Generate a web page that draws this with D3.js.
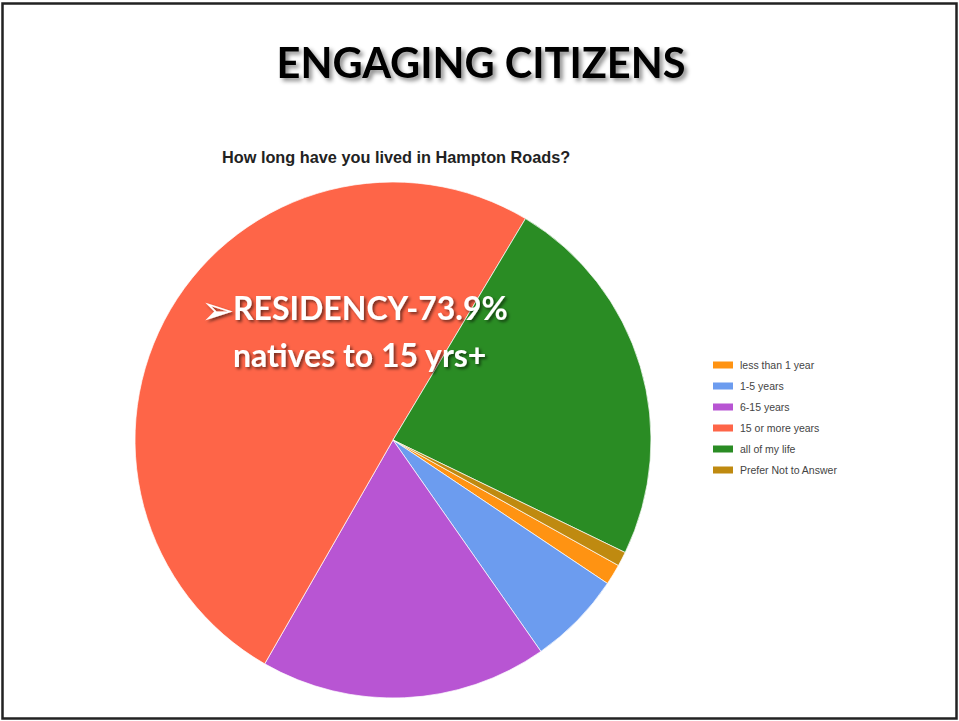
<!DOCTYPE html>
<html>
<head>
<meta charset="utf-8">
<script src="https://cdn.jsdelivr.net/npm/d3@7"></script>
<style>
  html, body { margin: 0; padding: 0; background: #fff; }
  svg { display: block; }
</style>
</head>
<body>
<svg id="chart" width="959" height="721"></svg>
<script>
// Survey answers: share of respondents (%) by time lived in Hampton Roads
const categories = ["less than 1 year", "1-5 years", "6-15 years", "15 or more years", "all of my life", "Prefer Not to Answer"];
const values = [1.3, 5.9, 18.0, 50.3, 23.6, 0.9];
const colors = ["#ff9312", "#6c9cef", "#b855d3", "#fe6548", "#2a8c24", "#bf8a10"];

const titleText = "ENGAGING CITIZENS";
const subtitleText = "How long have you lived in Hampton Roads?";
const calloutLines = ["RESIDENCY-73.9%", "natives to 15 yrs+"];

const svg = d3.select("#chart");

const defs = svg.append("defs");
const titleShadow = defs.append("filter").attr("id", "titleShadow")
  .attr("x", "-10%").attr("y", "-30%").attr("width", "120%").attr("height", "160%");
titleShadow.append("feDropShadow").attr("dx", 3).attr("dy", 3).attr("stdDeviation", 2)
  .attr("flood-color", "#000").attr("flood-opacity", 0.45);
const calloutShadow = defs.append("filter").attr("id", "calloutShadow")
  .attr("x", "-10%").attr("y", "-30%").attr("width", "120%").attr("height", "160%");
calloutShadow.append("feDropShadow").attr("dx", 2).attr("dy", 2).attr("stdDeviation", 1.5)
  .attr("flood-color", "#000").attr("flood-opacity", 0.55);

// Slide frame
svg.append("rect")
  .attr("x", 2.5).attr("y", 3.5).attr("width", 954).attr("height", 715)
  .attr("fill", "none").attr("stroke", "#222").attr("stroke-width", 2.5);

// Slide title
svg.append("text")
  .attr("x", 481).attr("y", 78)
  .attr("text-anchor", "middle")
  .attr("font-family", "Lato, 'Open Sans', sans-serif")
  .attr("font-weight", 700)
  .attr("font-size", 41.5)
  .attr("fill", "#000")
  .attr("filter", "url(#titleShadow)")
  .text(titleText);

// Chart title
svg.append("text")
  .attr("x", 222).attr("y", 163)
  .attr("font-family", "Arial, 'Liberation Sans', sans-serif")
  .attr("font-weight", 700)
  .attr("font-size", 16.3)
  .attr("fill", "#222")
  .text(subtitleText);

// Pie
const cx = 393, cy = 440, radius = 258;
const startAngle = 119.1 * Math.PI / 180;

const pie = d3.pie()
  .sort(null)
  .value(d => d.value)
  .startAngle(startAngle)
  .endAngle(startAngle + 2 * Math.PI);

const arc = d3.arc().innerRadius(0).outerRadius(radius);

const data = categories.map((c, i) => ({ name: c, value: values[i], color: colors[i] }));

svg.append("g")
  .attr("transform", `translate(${cx},${cy})`)
  .selectAll("path")
  .data(pie(data))
  .join("path")
  .attr("d", arc)
  .attr("fill", d => d.data.color)
  .attr("stroke", "#fff")
  .attr("stroke-opacity", 0.7)
  .attr("stroke-width", 1);

// Legend
const legend = svg.append("g").attr("transform", "translate(713,365)");
const rows = legend.selectAll("g")
  .data(data)
  .join("g")
  .attr("transform", (d, i) => `translate(0,${i * 21})`);
rows.append("rect")
  .attr("x", 0).attr("y", -3.5).attr("width", 20).attr("height", 7)
  .attr("fill", d => d.color);
rows.append("text")
  .attr("x", 27).attr("y", 4)
  .attr("font-family", "Arial, 'Liberation Sans', sans-serif")
  .attr("font-size", 10.5)
  .attr("fill", "#444")
  .text(d => d.name);

// Callout over the pie
const callout = svg.append("g")
  .attr("fill", "#fff")
  .attr("filter", "url(#calloutShadow)");
callout.append("text")
  .attr("x", 201).attr("y", 324)
  .attr("font-family", "'DejaVu Sans', sans-serif")
  .attr("font-size", 40)
  .text("\u27A2");
callout.selectAll("text.line")
  .data(calloutLines)
  .join("text")
  .attr("class", "line")
  .attr("x", 233)
  .attr("y", (d, i) => 320 + i * 47)
  .attr("font-family", "Lato, 'Open Sans', sans-serif")
  .attr("font-weight", 700)
  .attr("font-size", 32)
  .text(d => d);
</script>
</body>
</html>
